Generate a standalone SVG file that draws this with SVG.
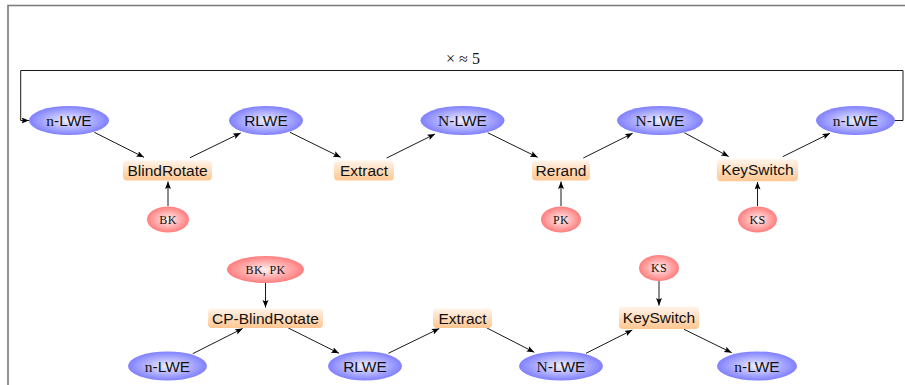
<svg xmlns="http://www.w3.org/2000/svg" width="905" height="385" viewBox="0 0 905 385">
  <defs>
    <radialGradient id="gBlue" cx="50%" cy="50%" r="50%">
      <stop offset="0" stop-color="#f0f0ff"/>
      <stop offset="1" stop-color="#8080ff"/>
    </radialGradient>
    <radialGradient id="gRed" cx="50%" cy="50%" r="50%">
      <stop offset="0" stop-color="#fff0f0"/>
      <stop offset="1" stop-color="#ff7d7d"/>
    </radialGradient>
    <linearGradient id="gOrange" x1="0" y1="0" x2="0" y2="1">
      <stop offset="0" stop-color="#fff4ea"/>
      <stop offset="1" stop-color="#ffc690"/>
    </linearGradient>
    <marker id="arr" markerUnits="userSpaceOnUse" markerWidth="9" markerHeight="7" refX="7.5" refY="3" orient="auto">
      <path d="M0,0 L7.5,3 L0,6 L1.5,3 z" fill="#000"/>
    </marker>
  </defs>
  <style>
    .frame { fill: none; stroke: #7a7a7a; stroke-width: 1.6; }
    .edge { fill: none; stroke: #000; stroke-width: 0.9; marker-end: url(#arr); }
    .ct { fill: url(#gBlue); stroke: none; }
    .key { fill: url(#gRed); stroke: none; }
    .op { fill: url(#gOrange); stroke: none; }
    .sans { font-family: "Liberation Sans", Arial, sans-serif; font-size: 15.5px; fill: #111; text-anchor: middle; }
    .serif { font-family: "Liberation Serif", "Times New Roman", serif; }
    .small { font-family: "Liberation Serif", "Times New Roman", serif; font-size: 12px; fill: #111; text-anchor: middle; letter-spacing: 0.3px; }
    .lbl { font-family: "Liberation Serif", "Times New Roman", serif; font-size: 16px; fill: #111; text-anchor: middle; }
  </style>

  <rect width="905" height="385" fill="#fff"/>
  <!-- outer frame -->
  <path class="frame" d="M8,390 V5.5 H910"/>

  <!-- connectors -->
  <g id="connectors">
    <!-- loop back -->
    <path class="edge" d="M895,120.5 H903 V70.5 H20.7 V120.5 H29"/>
    <text class="lbl" x="463" y="64">× ≈ 5</text>
    <!-- top chain -->
    <path class="edge" d="M94.3,132.3 L144,157.3"/>
    <path class="edge" d="M190,157.7 L240.7,133"/>
    <path class="edge" d="M290,132.3 L340.7,157.3"/>
    <path class="edge" d="M386.7,158 L435,134"/>
    <path class="edge" d="M487.7,132.7 L537.7,157.3"/>
    <path class="edge" d="M583.3,158 L632.7,133.3"/>
    <path class="edge" d="M684.3,132.7 L728.7,156.5"/>
    <path class="edge" d="M782.7,156.7 L830,133.3"/>
    <path class="edge" d="M168,206 V181.5"/>
    <path class="edge" d="M561,206 V181.5"/>
    <path class="edge" d="M757.5,206 V182"/>
    <!-- bottom chain -->
    <path class="edge" d="M265.5,283 V307.5"/>
    <path class="edge" d="M192.7,353.7 L242.7,328.5"/>
    <path class="edge" d="M288.3,328 L339,353.3"/>
    <path class="edge" d="M388.3,353.3 L439.3,328.5"/>
    <path class="edge" d="M487,328 L534.3,352.3"/>
    <path class="edge" d="M586,353.3 L632.3,330"/>
    <path class="edge" d="M684,329.3 L731.7,352.7"/>
    <path class="edge" d="M659,281 V305.5"/>
  </g>

  <!-- top row -->
  <g id="t-nlwe1"><ellipse class="ct" cx="69" cy="120.5" rx="40" ry="14.5"/><text class="sans" x="69" y="126"><tspan class="serif">n</tspan>-LWE</text></g>
  <g id="t-rlwe"><ellipse class="ct" cx="266" cy="120.5" rx="37" ry="14.5"/><text class="sans" x="266" y="126">RLWE</text></g>
  <g id="t-Nlwe1"><ellipse class="ct" cx="462.5" cy="120.5" rx="42" ry="14.5"/><text class="sans" x="462.5" y="126"><tspan class="serif">N</tspan>-LWE</text></g>
  <g id="t-Nlwe2"><ellipse class="ct" cx="660" cy="120.5" rx="43" ry="14.5"/><text class="sans" x="660" y="126"><tspan class="serif">N</tspan>-LWE</text></g>
  <g id="t-nlwe2"><ellipse class="ct" cx="855.5" cy="120.5" rx="39.5" ry="14.5"/><text class="sans" x="855.5" y="126"><tspan class="serif">n</tspan>-LWE</text></g>

  <g id="t-blindrotate"><rect class="op" x="123" y="160.5" width="89" height="20" rx="4"/><text class="sans" x="167.5" y="176">BlindRotate</text></g>
  <g id="t-extract"><rect class="op" x="334" y="160.5" width="60" height="20" rx="4"/><text class="sans" x="364" y="176">Extract</text></g>
  <g id="t-rerand"><rect class="op" x="532" y="160.5" width="58" height="20" rx="4"/><text class="sans" x="561" y="176">Rerand</text></g>
  <g id="t-keyswitch"><rect class="op" x="717" y="159.3" width="81" height="22" rx="4"/><text class="sans" x="757.5" y="175">KeySwitch</text></g>

  <g id="t-bk"><ellipse class="key" cx="168" cy="219.5" rx="21" ry="13"/><text class="small" x="168" y="223.5">BK</text></g>
  <g id="t-pk"><ellipse class="key" cx="561" cy="219.5" rx="20" ry="13"/><text class="small" x="561" y="223.5">PK</text></g>
  <g id="t-ks"><ellipse class="key" cx="757.5" cy="219.5" rx="19.5" ry="13"/><text class="small" x="757.5" y="223.5">KS</text></g>

  <!-- bottom row -->
  <g id="b-bkpk"><ellipse class="key" cx="265.5" cy="269.5" rx="38.5" ry="13.5"/><text class="small" x="265.5" y="273.5">BK, PK</text></g>
  <g id="b-ks"><ellipse class="key" cx="659" cy="268" rx="20" ry="13"/><text class="small" x="659" y="272">KS</text></g>

  <g id="b-cpblindrotate"><rect class="op" x="208" y="308.5" width="115" height="19.5" rx="4"/><text class="sans" x="265.5" y="323.8">CP-BlindRotate</text></g>
  <g id="b-extract"><rect class="op" x="433" y="308.5" width="59" height="19.5" rx="4"/><text class="sans" x="462.5" y="323.8">Extract</text></g>
  <g id="b-keyswitch"><rect class="op" x="619" y="306.5" width="80" height="22.5" rx="4"/><text class="sans" x="659" y="322.5">KeySwitch</text></g>

  <g id="b-nlwe1"><ellipse class="ct" cx="167.5" cy="366" rx="39.5" ry="14.5"/><text class="sans" x="167.5" y="371.5"><tspan class="serif">n</tspan>-LWE</text></g>
  <g id="b-rlwe"><ellipse class="ct" cx="365" cy="366" rx="37" ry="14.5"/><text class="sans" x="365" y="371.5">RLWE</text></g>
  <g id="b-Nlwe"><ellipse class="ct" cx="561" cy="366" rx="42" ry="14.5"/><text class="sans" x="561" y="371.5"><tspan class="serif">N</tspan>-LWE</text></g>
  <g id="b-nlwe2"><ellipse class="ct" cx="757" cy="366" rx="40" ry="14.5"/><text class="sans" x="757" y="371.5"><tspan class="serif">n</tspan>-LWE</text></g>
</svg>
